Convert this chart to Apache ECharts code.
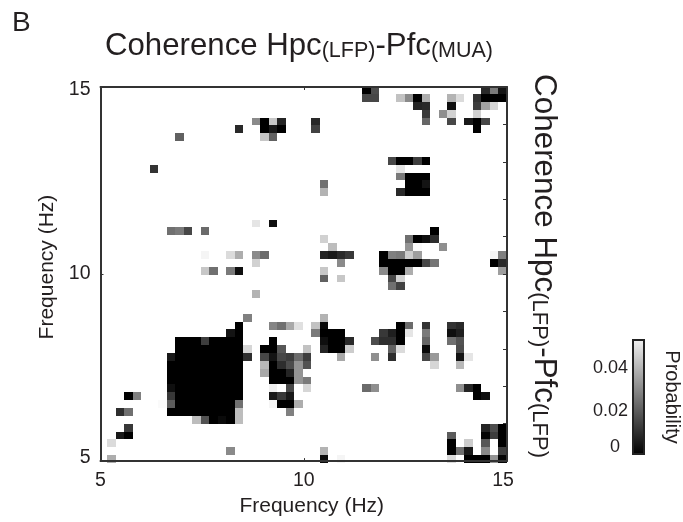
<!DOCTYPE html>
<html><head><meta charset="utf-8">
<style>html,body{margin:0;padding:0;background:#fff}#c{width:683px;height:522px}</style>
<script src="https://cdn.jsdelivr.net/npm/echarts@6/dist/echarts.min.js"></script>
</head><body><div id="c"></div>
<script>
// Heatmap values in thousandths of probability: one list per row (top to bottom), entries [column, value]
const black = (a, b) => { const o = []; for (let c = a; c <= b; c++) o.push([c, 0]); return o; };
const cellRows = [
 [[31,0],[32,15],[45,8],[46,24],[47,4]],
 [[31,14],[32,14],[35,38],[36,27],[37,0],[38,34],[41,35],[42,43],[44,10],[45,0],[46,0],[47,0]],
 [[37,7],[38,8],[41,3],[44,12],[45,32],[46,42]],
 [[38,11],[40,28],[41,41],[44,41]],
 [[18,27],[19,0],[20,39],[21,7],[25,8],[38,20],[41,14],[43,5],[44,0],[45,14]],
 [[16,8],[19,0],[20,5],[21,0],[25,13],[44,0]],
 [[9,19],[19,39],[20,19]],
 [],
 [],
 [[34,14],[35,0],[36,0],[37,12],[38,0]],
 [[6,10],[35,45]],
 [[35,24],[36,0],[37,0],[38,0]],
 [[26,22],[36,0],[37,0],[38,4]],
 [[26,35],[35,8],[36,0],[37,0],[38,0]],
 [],
 [],
 [],
 [[18,45],[20,3]],
 [[8,22],[9,24],[10,14],[12,21],[39,0]],
 [[26,41],[36,22],[37,0],[38,3],[39,9]],
 [[27,37],[36,29],[37,49],[40,28]],
 [[12,48],[15,43],[16,34],[18,27],[19,21],[26,7],[27,5],[28,8],[29,11],[33,0],[34,25],[35,24],[36,40],[37,31],[46,48],[47,25]],
 [[18,41],[28,27],[33,0],[34,0],[35,0],[36,0],[37,0],[38,14],[39,23],[46,0],[47,8]],
 [[12,39],[13,22],[15,24],[16,3],[26,39],[33,27],[34,0],[35,0],[36,34],[47,31]],
 [[26,19],[28,39],[34,14],[35,41]],
 [[34,22],[35,13]],
 [[18,35]],
 [],
 [],
 [[17,25],[26,35]],
 [[16,0],[20,26],[21,22],[22,33],[23,44],[25,38],[26,2],[35,0],[36,21],[38,10],[41,10],[42,8]],
 [[15,4],[16,0],[25,24],[26,0],[27,0],[28,0],[33,11],[34,6],[35,0],[36,45],[38,24],[41,3],[42,6]],
 [[9,0],[10,0],[11,0],[12,12],[13,0],[14,0],[15,0],[16,0],[20,0],[26,3],[27,0],[28,0],[29,8],[32,15],[33,9],[34,9],[35,0],[38,20],[41,22],[42,16]],
 [...black(9,16),[17,42],[19,0],[20,0],[21,17],[24,38],[26,7],[27,0],[28,0],[29,40],[34,19],[35,43],[38,2],[42,15]],
 [[8,5],...black(9,16),[17,9],[19,14],[20,4],[21,14],[22,12],[23,21],[24,12],[28,33],[32,28],[34,9],[38,14],[39,30],[42,4],[43,45]],
 [...black(8,16),[19,36],[20,0],[21,9],[22,15],[23,29],[24,16],[39,42],[42,36]],
 [...black(8,16),[19,33],[20,0],[21,0],[22,7],[23,29]],
 [...black(8,16),[20,0],[21,0],[22,0],[23,29],[24,24]],
 [[8,3],...black(9,16),[20,47],[22,14],[24,42],[31,21],[32,28],[42,28],[43,7],[44,0]],
 [[3,0],[4,25],[8,11],...black(9,16),[20,5],[21,11],[22,5],[44,0],[45,3]],
 [[7,49],[8,18],...black(9,15),[16,22],[20,48],[21,0],[22,0],[23,34]],
 [[2,9],[3,22],...black(8,15),[16,37],[22,25]],
 [[11,37],[12,16],[13,0],[14,2],[15,0],[16,37]],
 [[3,11],[45,7],[46,15],[47,0]],
 [[2,5],[3,0],[41,18],[45,1],[46,12],[47,0]],
 [[1,43],[41,0],[43,40],[45,17],[47,0]],
 [[15,27],[26,35],[41,0],[42,22],[43,5],[45,27],[47,12]],
 [[1,34],[26,2],[28,48],[41,43],[43,0],[44,0],[45,0],[46,29],[47,1]]
];
const binCount = 48;
const binLabels = Array.from({length: binCount}, (_, i) => String(i));
const probLabels = [0, 0.02, 0.04];

const heat = [];
cellRows.forEach((row, r) => row.forEach(([c, v]) => heat.push([c, r, v / 1000])));

const ink = '#231f20';
const font = '"Liberation Sans", Arial, sans-serif';
const spine = {show: true, onZero: false, lineStyle: {color: '#333', width: 2}};
const txt = fs => ({fontFamily: font, fontSize: fs, fontWeight: 'normal', color: ink, verticalAlign: 'bottom'});
const gridA = {left: 100.5, top: 87, width: 406.5, height: 374.5};
const tick = len => ({inside: true, length: len, lineStyle: {color: '#333'}});

const renderCell = (params, api) => {
  const p = api.coord([api.value(0), api.value(1)]);
  const s = api.size([1, 1]);
  const x0 = Math.round(p[0] - s[0] / 2), x1 = Math.round(p[0] + s[0] / 2);
  const y0 = Math.round(p[1] - s[1] / 2), y1 = Math.round(p[1] + s[1] / 2);
  return {type: 'rect', shape: {x: x0, y: y0, width: x1 - x0, height: y1 - y0},
          style: {fill: api.visual('color')}};
};

const option = {
 animation: false,
 backgroundColor: '#fff',
 title: [
  {text: 'B', left: 7, top: 4, textStyle: {fontFamily: font, fontSize: 28, fontWeight: 'normal', color: ink}},
  {text: '{b|Coherence Hpc}{s|(LFP)}{b|-Pfc}{s|(MUA)}', left: 100, top: 26,
   textStyle: {fontWeight: 'normal', rich: {b: txt(31.2), s: txt(21.5)}}}
 ],
 grid: [
  {left: 98.5, top: 86.15, width: 408, height: 376.8, show: false},
  gridA,
  {left: 633, top: 340, width: 21, height: 114, show: true, borderColor: '#222', borderWidth: 2,
   backgroundColor: new echarts.graphic.LinearGradient(0, 0, 0, 1, [{offset: 0, color: '#f2f2f2'}, {offset: 1, color: '#000'}])}
 ],
 visualMap: {show: false, seriesIndex: 0, dimension: 2, min: 0, max: 0.05, inRange: {color: ['#000', '#fff']}},
 xAxis: [
  {gridIndex: 0, type: 'category', data: binLabels, show: false},
  {gridIndex: 1, type: 'value', min: 5, max: 15, interval: 5, position: 'bottom', z: 5, axisLine: spine,
   axisTick: tick(3), splitLine: {show: false},
   axisLabel: {fontFamily: font, fontSize: 19.5, color: ink, margin: 10,
    formatter: v => v === 15 ? '{e|15}' : String(v),
    rich: {e: {fontFamily: font, fontSize: 19.5, color: ink, padding: [0, 8, 0, 0]}}},
   name: 'Frequency (Hz)', nameLocation: 'middle', nameGap: 29,
   nameTextStyle: {fontFamily: font, fontSize: 21, color: ink, padding: [0, 0, 0, 16]}},
  {gridIndex: 1, type: 'value', min: 5, max: 15, interval: 5, position: 'top', z: 5, axisLine: spine,
   axisTick: tick(3), splitLine: {show: false}, axisLabel: {show: false}},
  {gridIndex: 2, type: 'category', data: [''], show: false}
 ],
 yAxis: [
  {gridIndex: 0, type: 'category', data: binLabels, inverse: true, show: false},
  {gridIndex: 1, type: 'value', min: 5, max: 15, interval: 5, position: 'left', z: 5, axisLine: spine,
   axisTick: tick(3), splitLine: {show: false},
   axisLabel: {fontFamily: font, fontSize: 19.5, color: ink, margin: 10,
    formatter: v => v === 5 ? '{l|5}' : v === 15 ? '{h|15}' : String(v),
    rich: {l: {fontFamily: font, fontSize: 19.5, color: ink, padding: [0, 0, 6, 0]},
           h: {fontFamily: font, fontSize: 19.5, color: ink, padding: [6, 0, 0, 0]}}},
   name: 'Frequency (Hz)', nameLocation: 'middle', nameGap: 43,
   nameTextStyle: {fontFamily: font, fontSize: 21, color: ink, padding: [0, 0, 0, 14]}},
  {gridIndex: 1, type: 'value', min: 5, max: 15, interval: 1, position: 'right', z: 5, axisLine: spine,
   axisTick: tick(4), splitLine: {show: false}, axisLabel: {show: false},
   name: '{b|Coherence Hpc}{s|(LFP)}{b|-Pfc}{s|(LFP)}', nameLocation: 'middle', nameRotate: -90, nameGap: 21,
   nameTextStyle: {padding: [0, 16, 0, 0], rich: {b: txt(31.4), s: txt(22)}}},
  {gridIndex: 2, type: 'value', min: 0, max: 0.053, interval: 0.005, position: 'left', z: 5,
   axisLine: {show: false}, axisTick: tick(3), splitLine: {show: false},
   axisLabel: {fontFamily: font, fontSize: 18, color: ink, margin: 5,
    formatter: v => { const m = probLabels.find(p => Math.abs(p - v) < 1e-6); return m === undefined ? '' : m === 0 ? '{z|0}' : String(m); },
    rich: {z: {fontFamily: font, fontSize: 18, color: ink, padding: [0, 8, 14, 0]}}}},
  {gridIndex: 2, type: 'value', min: 0, max: 0.053, interval: 0.005, position: 'right', z: 5,
   axisLine: {show: false}, axisTick: tick(3), splitLine: {show: false},
   axisLabel: {show: false},
   name: 'Probability', nameLocation: 'middle', nameRotate: -90, nameGap: 18,
   nameTextStyle: {fontFamily: font, fontSize: 20, color: ink}}
 ],
 series: [
  {type: 'custom', xAxisIndex: 0, yAxisIndex: 0, coordinateSystem: 'cartesian2d', data: heat,
   encode: {x: 0, y: 1}, renderItem: renderCell, clip: false, z: 2}
 ]
};
echarts.init(document.getElementById('c'), null, {renderer: 'canvas'}).setOption(option);
</script></body></html>
